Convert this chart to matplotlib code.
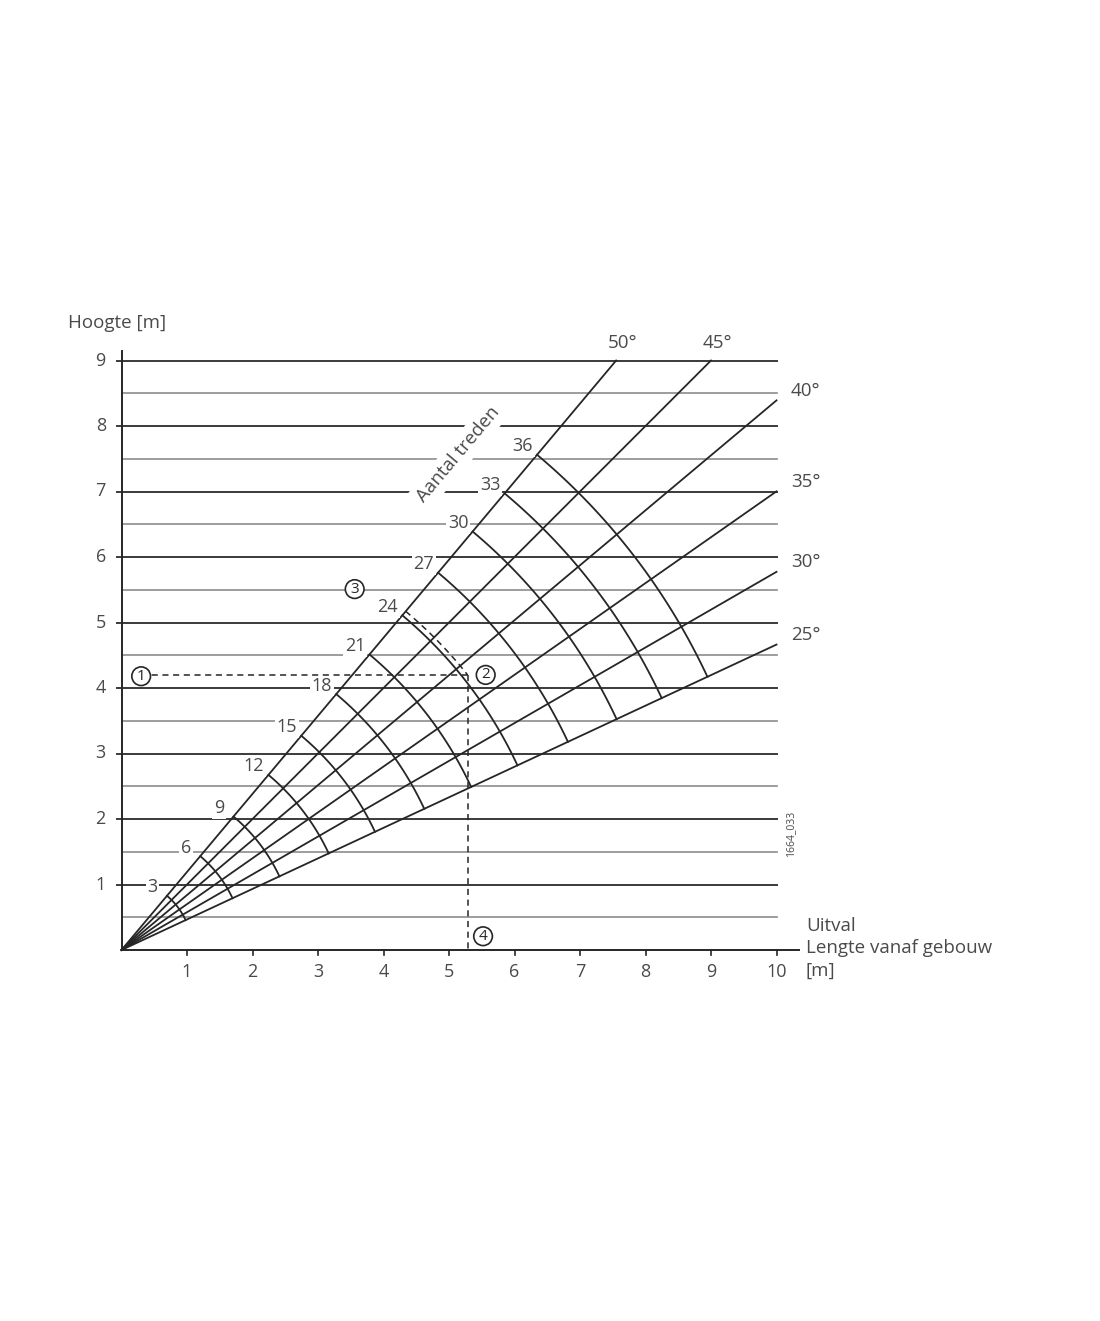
import matplotlib.pyplot as plt
import numpy as np

# stair angles (deg) and number of steps along the stair
angles = [25, 30, 35, 40, 45, 50]
angle_labels = ['25°', '30°', '35°', '40°', '45°', '50°']
steps = [3, 6, 9, 12, 15, 18, 21, 24, 27, 30, 33, 36]
# distance from origin of each step-arc [m]
arc_radius = [1.08, 1.87, 2.66, 3.49, 4.27, 5.10, 5.89, 6.67, 7.52, 8.34, 9.10, 9.87]

y_ticks = [1, 2, 3, 4, 5, 6, 7, 8, 9]
x_ticks = [1, 2, 3, 4, 5, 6, 7, 8, 9, 10]

# worked example: height 4.2 m, 24 steps
example_height = 4.2
example_steps = 24

plt.rcParams['font.family'] = ['Open Sans', 'DejaVu Sans']
TXT = '#4a4a4a'
INK = '#262626'

# pixel layout of the original: origin at (121.5, 950), 65.5 px per metre
S = 65.5
fig = plt.figure(figsize=(11, 13.21), dpi=100)
ax = fig.add_axes([0, 0, 1, 1])
ax.set_xlim(-121.5 / S, (1100 - 121.5) / S)
ax.set_ylim(-(1321 - 950) / S, 950 / S)
ax.axis('off')

# horizontal grid lines
for k in np.arange(0.5, 9.01, 0.5):
    if k == int(k):
        ax.plot([-0.07, 10], [k, k], color='#3a3a3a', lw=1.4, zorder=2)
    else:
        ax.plot([0, 10], [k, k], color='#8c8c8c', lw=1.2, zorder=2)

# axes
ax.plot([0, 0], [0, 9.15], color=INK, lw=1.4, zorder=3)
ax.plot([0, 10.35], [0, 0], color=INK, lw=1.4, zorder=3)
for t in x_ticks:
    ax.plot([t, t], [0, -0.07], color=INK, lw=1.2, zorder=3)
    ax.text(t, -0.34, str(t), ha='center', va='center', fontsize=13, color=TXT)
for t in y_ticks:
    ax.text(-0.24, t, str(t), ha='right', va='center', fontsize=13, color=TXT)

ax.text(-0.82, 9.57, 'Hoogte [m]', ha='left', va='center', fontsize=13.5, color=TXT)
ax.text(10.45, 0.37, 'Uitval', ha='left', va='center', fontsize=13.5, color=TXT)
ax.text(10.45, 0.03, 'Lengte vanaf gebouw', ha='left', va='center', fontsize=13.5, color=TXT)
ax.text(10.45, -0.32, '[m]', ha='left', va='center', fontsize=13.5, color=TXT)
ax.text(10.21, 1.77, '1664_033', ha='center', va='center', rotation=90, fontsize=7.5, color=TXT)

# rays for each angle
for a, lab in zip(angles, angle_labels):
    t = np.tan(np.radians(a))
    if 10 * t <= 9:
        ex, ey = 10, 10 * t
        ax.text(10.22, ey + 0.15, lab, ha='left', va='center', fontsize=13.5, color=TXT)
    else:
        ex, ey = 9 / t, 9
        ax.text(ex + 0.1, 9.27, lab, ha='center', va='center', fontsize=13.5, color=TXT)
    ax.plot([0, ex], [0, ey], color=INK, lw=1.3, zorder=3)

# arcs for each number of steps
th = np.radians(np.linspace(min(angles), max(angles), 80))
top = np.radians(max(angles))
for n, r in zip(steps, arc_radius):
    ax.plot(r * np.cos(th), r * np.sin(th), color=INK, lw=1.3, zorder=3)
    ax.text(r * np.cos(top) - 0.22, r * np.sin(top) + 0.13, str(n), ha='center', va='center',
            fontsize=13, color=TXT, zorder=4,
            bbox=dict(boxstyle='square,pad=0.1', fc='white', ec='none'))

ax.text(5.14, 7.56, 'Aantal treden', rotation=50, ha='center', va='center', fontsize=13.5,
        color=TXT, zorder=4, bbox=dict(boxstyle='square,pad=0.25', fc='white', ec='none'))

# worked example (dashed)
R = arc_radius[steps.index(example_steps)] + 0.08
ex_len = np.sqrt(R ** 2 - example_height ** 2)
dash = (0, (4, 3))
ax.plot([0.3, ex_len], [example_height, example_height], color=INK, lw=1.1, ls=dash, zorder=5)
ax.plot([ex_len, ex_len], [example_height, 0], color=INK, lw=1.1, ls=dash, zorder=5)
th2 = np.linspace(top, np.arctan2(example_height, ex_len), 40)
ax.plot(R * np.cos(th2), R * np.sin(th2), color=INK, lw=1.1, ls=dash, zorder=5)

circ = dict(boxstyle='circle,pad=0.12', fc='white', ec=INK, lw=1.2)
for txt, (cx, cy) in zip(['1', '2', '3', '4'],
                         [(0.30, 4.18), (5.56, 4.20), (3.56, 5.51), (5.52, 0.21)]):
    ax.text(cx, cy, txt, ha='center', va='center', fontsize=11,
            color=INK, zorder=6, bbox=circ)

fig.savefig('out.png', dpi=100, facecolor='white')
